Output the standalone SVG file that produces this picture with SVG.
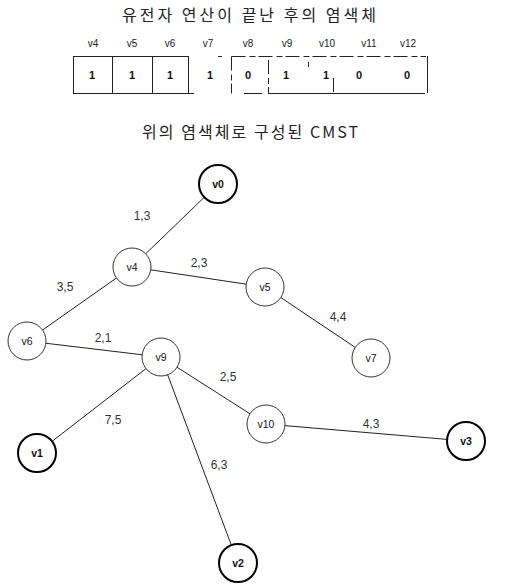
<svg xmlns="http://www.w3.org/2000/svg" width="510" height="585" viewBox="0 0 510 585">
  <style>
    .title { font-family: "Noto Sans CJK KR", "Liberation Sans", sans-serif; font-size: 16px; fill: #222; }
    .gene { font-family: "Liberation Sans", Arial, sans-serif; font-size: 10px; fill: #222; text-anchor: middle; }
    .bit { font-family: "Liberation Sans", Arial, sans-serif; font-size: 11px; font-weight: bold; fill: #111; text-anchor: middle; }
    .cell { fill: none; stroke: #222; stroke-width: 1; }
    .gap { fill: none; stroke: #222; stroke-width: 1; stroke-dasharray: 14 4 6 3; }
    .node circle { fill: #fff; stroke: #333; stroke-width: 1; }
    .node.leaf circle { stroke: #000; stroke-width: 2; }
    .node text { font-family: "Liberation Sans", Arial, sans-serif; font-size: 10.5px; fill: #111; text-anchor: middle; }
    .node.leaf text { font-weight: bold; }
    .edges line { stroke: #222; stroke-width: 1; }
    .weight { font-family: "Liberation Sans", Arial, sans-serif; font-size: 12px; fill: #333; text-anchor: middle; }
  </style>

  <!-- heading over the chromosome -->
  <text class="title" x="122" y="21" textLength="254" lengthAdjust="spacing">유전자 연산이 끝난 후의 염색체</text>

  <!-- gene names -->
  <g id="gene-names">
    <text class="gene" x="93" y="47">v4</text>
    <text class="gene" x="132" y="47">v5</text>
    <text class="gene" x="170" y="47">v6</text>
    <text class="gene" x="208" y="47">v7</text>
    <text class="gene" x="248" y="47">v8</text>
    <text class="gene" x="287" y="47">v9</text>
    <text class="gene" x="327" y="47">v10</text>
    <text class="gene" x="369" y="47">v11</text>
    <text class="gene" x="408" y="47">v12</text>
  </g>

  <!-- chromosome cells -->
  <g id="chromosome">
    <rect class="cell" x="73.5" y="56.5" width="115" height="37"/>
    <line class="cell" x1="112.5" y1="56.5" x2="112.5" y2="93.5"/>
    <line class="cell" x1="152.5" y1="56.5" x2="152.5" y2="93.5"/>
    <line class="cell" x1="188" y1="93.5" x2="194" y2="93.5"/>
    <line class="cell" x1="218" y1="56.5" x2="222" y2="56.5"/>
    <line class="gap" x1="231.5" y1="56.5" x2="426" y2="56.5"/>
    <line class="gap" x1="231.5" y1="56.5" x2="231.5" y2="93.5"/>
    <line class="gap" x1="268.5" y1="60" x2="268.5" y2="93.5"/>
    <line class="cell" x1="244" y1="93.5" x2="262" y2="93.5"/>
    <line class="cell" x1="268" y1="93.5" x2="425" y2="93.5"/>
    <line class="cell" x1="427.5" y1="56" x2="427.5" y2="93"/>
    <line class="cell" x1="308.5" y1="62" x2="308.5" y2="67"/>
    <line class="gap" x1="333.5" y1="78" x2="333.5" y2="92"/>
    <text class="bit" x="92" y="79">1</text>
    <text class="bit" x="132" y="79">1</text>
    <text class="bit" x="170" y="79">1</text>
    <text class="bit" x="210" y="79">1</text>
    <text class="bit" x="248" y="79">0</text>
    <text class="bit" x="286" y="79">1</text>
    <text class="bit" x="326" y="79">1</text>
    <text class="bit" x="359" y="79">0</text>
    <text class="bit" x="407" y="79">0</text>
  </g>

  <!-- heading over the tree -->
  <text class="title" x="142" y="138" textLength="216" lengthAdjust="spacing">위의 염색체로 구성된 CMST</text>

  <!-- tree edges -->
  <g id="edges" class="edges">
    <line x1="218" y1="184" x2="132" y2="267"/>
    <line x1="132" y1="267" x2="265" y2="287"/>
    <line x1="132" y1="267" x2="27" y2="341"/>
    <line x1="27" y1="341" x2="161" y2="357"/>
    <line x1="265" y1="287" x2="371" y2="358"/>
    <line x1="161" y1="357" x2="266" y2="424"/>
    <line x1="266" y1="424" x2="466" y2="441"/>
    <line x1="161" y1="357" x2="37" y2="453"/>
    <line x1="161" y1="357" x2="238" y2="563"/>
  </g>

  <!-- edge weights -->
  <g id="weights">
    <text class="weight" x="142" y="220">1,3</text>
    <text class="weight" x="199" y="267">2,3</text>
    <text class="weight" x="65" y="291">3,5</text>
    <text class="weight" x="103" y="342">2,1</text>
    <text class="weight" x="228" y="381">2,5</text>
    <text class="weight" x="338" y="321">4,4</text>
    <text class="weight" x="371" y="428">4,3</text>
    <text class="weight" x="113" y="424">7,5</text>
    <text class="weight" x="219" y="469">6,3</text>
  </g>

  <!-- nodes -->
  <g id="v0" class="node leaf"><circle cx="218" cy="184" r="19"/><text x="218" y="188">v0</text></g>
  <g id="v4" class="node"><circle cx="132" cy="267" r="19"/><text x="132" y="271">v4</text></g>
  <g id="v5" class="node"><circle cx="265" cy="287" r="19"/><text x="265" y="291">v5</text></g>
  <g id="v6" class="node"><circle cx="27" cy="341" r="19"/><text x="27" y="345">v6</text></g>
  <g id="v9" class="node"><circle cx="161" cy="357" r="19"/><text x="161" y="361">v9</text></g>
  <g id="v7" class="node"><circle cx="371" cy="358" r="19"/><text x="371" y="362">v7</text></g>
  <g id="v10" class="node"><circle cx="266" cy="424" r="19"/><text x="266" y="428">v10</text></g>
  <g id="v1" class="node leaf"><circle cx="37" cy="453" r="19"/><text x="37" y="457">v1</text></g>
  <g id="v3" class="node leaf"><circle cx="466" cy="441" r="19"/><text x="466" y="445">v3</text></g>
  <g id="v2" class="node leaf"><circle cx="238" cy="563" r="19"/><text x="238" y="567">v2</text></g>
</svg>
